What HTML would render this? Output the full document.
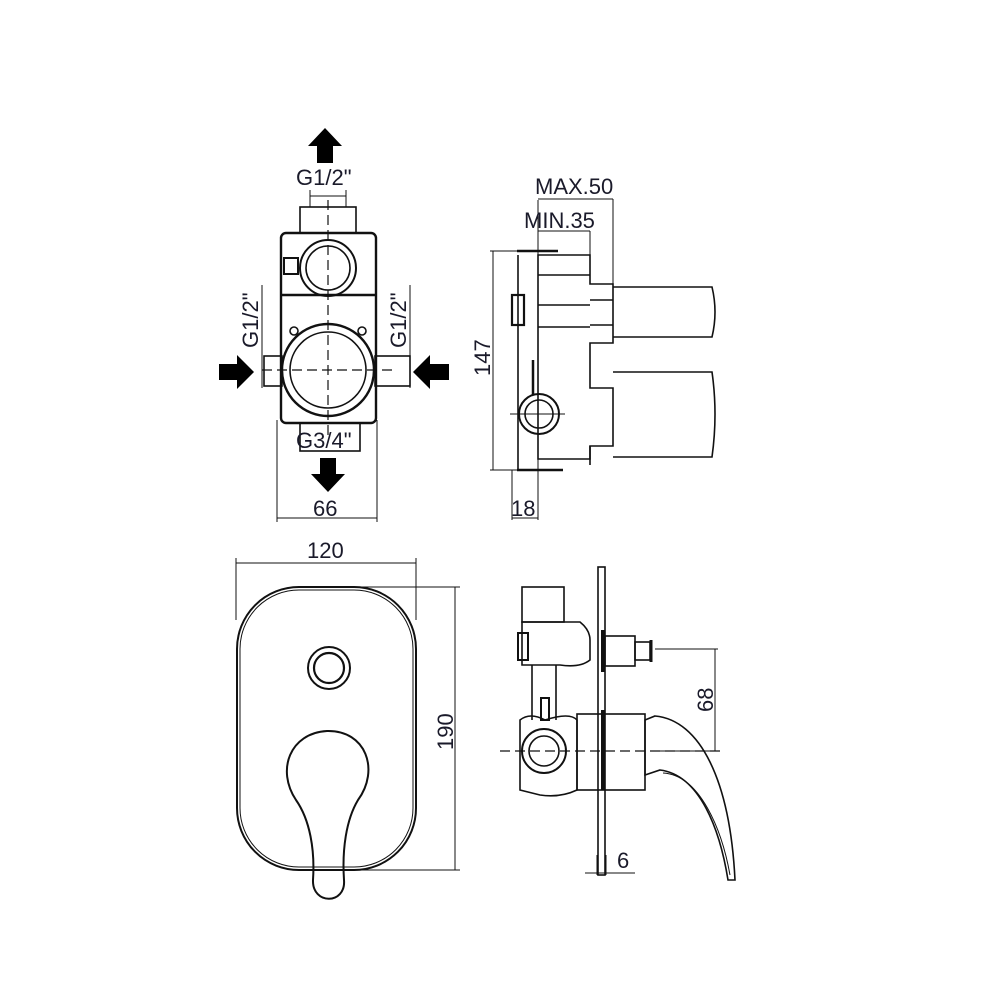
<!DOCTYPE html>
<html><head><style>
html,body{margin:0;padding:0;background:#fff;width:1000px;height:1000px;overflow:hidden}
svg{display:block}
text{font-family:"Liberation Sans",sans-serif;fill:#1a1a2a;font-size:22px}
</style></head><body>
<svg width="1000" height="1000" viewBox="0 0 1000 1000" xmlns="http://www.w3.org/2000/svg">
<g fill="none" stroke="#111" stroke-width="1.6">
<!-- TOP LEFT VIEW -->
<rect x="300" y="207" width="56" height="26"/>
<line x1="310" y1="190" x2="310" y2="207" stroke-width="1"/>
<line x1="346" y1="190" x2="346" y2="207" stroke-width="1"/>
<line x1="310" y1="196" x2="346" y2="196" stroke-width="1"/>
<rect x="281" y="233" width="95" height="190" rx="5" stroke-width="2.4"/>
<line x1="281" y1="295" x2="376" y2="295" stroke-width="2.4"/>
<circle cx="328" cy="268" r="28" stroke-width="2"/>
<circle cx="328" cy="268" r="22"/>
<circle cx="328" cy="370" r="46" stroke-width="2.4"/>
<circle cx="328" cy="370" r="38"/>
<circle cx="294" cy="331" r="4"/><circle cx="362" cy="331" r="4"/>
<rect x="284" y="258" width="14" height="16" stroke-width="2"/>
<rect x="264" y="356" width="18" height="30"/>
<rect x="375" y="356" width="35" height="30"/>
<rect x="300" y="423" width="60" height="28"/>
<line x1="262" y1="285" x2="262" y2="388" stroke-width="1"/>
<line x1="410" y1="285" x2="410" y2="388" stroke-width="1"/>
<line x1="277" y1="420" x2="277" y2="522" stroke-width="1"/>
<line x1="377" y1="420" x2="377" y2="522" stroke-width="1"/>
<line x1="277" y1="518" x2="377" y2="518" stroke-width="1"/>
<line x1="328" y1="200" x2="328" y2="440" stroke-dasharray="10,5" stroke-width="1.2"/>
<line x1="262" y1="370" x2="395" y2="370" stroke-dasharray="10,5" stroke-width="1.2"/>
<!-- TOP RIGHT VIEW -->
<line x1="490" y1="251" x2="518" y2="251" stroke-width="1"/>
<line x1="490" y1="470" x2="518" y2="470" stroke-width="1"/>
<line x1="493" y1="251" x2="493" y2="470" stroke-width="1"/>
<line x1="538" y1="200" x2="538" y2="520" stroke-width="1"/>
<line x1="512" y1="470" x2="512" y2="520" stroke-width="1"/>
<line x1="512" y1="518" x2="538" y2="518" stroke-width="1"/>
<line x1="538" y1="199" x2="613" y2="199" stroke-width="1"/>
<line x1="613" y1="199" x2="613" y2="290" stroke-width="1"/>
<line x1="538" y1="231" x2="590" y2="231" stroke-width="1"/>
<line x1="590" y1="231" x2="590" y2="255" stroke-width="1"/>
<line x1="517" y1="251" x2="558" y2="251" stroke-width="2.5"/>
<line x1="517" y1="470" x2="563" y2="470" stroke-width="2.5"/>
<path d="M538 255 H590 V284 H613 V343 H590 V388 H613 V446 H590 V459 H538 Z"/>
<line x1="538" y1="275" x2="590" y2="275"/>
<line x1="538" y1="305" x2="590" y2="305"/>
<line x1="538" y1="327" x2="590" y2="327"/>
<line x1="590" y1="300" x2="613" y2="300"/>
<line x1="590" y1="325" x2="613" y2="325"/>
<line x1="590" y1="446" x2="590" y2="465"/>
<path d="M613 287 H712 Q718 312 712 337 H613"/>
<path d="M613 372 H712 Q718 414 712 457 H613"/>
<line x1="518" y1="255" x2="518" y2="470"/>
<rect x="512" y="295" width="12" height="30" stroke-width="2.2"/>
<circle cx="539" cy="414" r="20" stroke-width="2"/>
<circle cx="539" cy="414" r="14"/>
<line x1="533" y1="360" x2="533" y2="395" stroke-width="2.5"/>
<line x1="510" y1="414" x2="565" y2="414" stroke-width="1"/>
<!-- BOTTOM LEFT -->
<rect x="237" y="587" width="179" height="283" rx="62" stroke-width="2"/>
<rect x="240" y="590" width="173" height="277" rx="59" stroke-width="1"/>
<line x1="236" y1="563" x2="416" y2="563" stroke-width="1"/>
<line x1="236" y1="558" x2="236" y2="620" stroke-width="1"/>
<line x1="416" y1="558" x2="416" y2="620" stroke-width="1"/>
<line x1="330" y1="587" x2="460" y2="587" stroke-width="1"/>
<line x1="330" y1="870" x2="460" y2="870" stroke-width="1"/>
<line x1="455" y1="587" x2="455" y2="870" stroke-width="1"/>
<circle cx="329" cy="668" r="21" stroke-width="2"/>
<circle cx="329" cy="668" r="15" stroke-width="2.2"/>
<path d="M296 800 C276 770 290 733 327 731 C366 730 380 770 358 800 C346 820 342 850 344 880 C346 905 312 905 313 880 C315 850 310 820 296 800 Z" stroke-width="2"/>
<!-- BOTTOM RIGHT -->
<rect x="598" y="567" width="7" height="308"/>
<rect x="522" y="587" width="42" height="35"/>
<path d="M522 622 H580 Q590 630 590 640 V660 Q580 668 560 665 H522 Z"/>
<rect x="518" y="633" width="10" height="27" stroke-width="2"/>
<line x1="532" y1="665" x2="532" y2="720"/>
<line x1="556" y1="665" x2="556" y2="720"/>
<rect x="605" y="636" width="30" height="30"/>
<rect x="635" y="642" width="15" height="18"/>
<line x1="651" y1="640" x2="651" y2="662" stroke-width="3"/>
<line x1="603" y1="630" x2="603" y2="672" stroke-width="4"/>
<line x1="603" y1="710" x2="603" y2="790" stroke-width="4"/>
<rect x="577" y="714" width="68" height="76"/>
<path d="M520 790 V720 Q530 712 545 720 Q570 712 577 720 V790 Q560 798 540 795 Z"/>
<circle cx="544" cy="751" r="22" stroke-width="2"/>
<circle cx="544" cy="751" r="15"/>
<rect x="541" y="698" width="8" height="22" stroke-width="2"/>
<path d="M645 720 L655 716 C700 720 730 780 735 880 L728 880 C720 830 700 775 660 770 L645 775 Z" stroke-width="1.6"/>
<path d="M663 773 C700 775 722 830 730 875" stroke-width="1"/>
<line x1="500" y1="751" x2="720" y2="751" stroke-dasharray="10,5" stroke-width="1.2"/>
<line x1="655" y1="649" x2="718" y2="649" stroke-width="1"/>
<line x1="660" y1="751" x2="718" y2="751" stroke-width="1"/>
<line x1="715" y1="649" x2="715" y2="751" stroke-width="1"/>
<line x1="597" y1="855" x2="597" y2="875" stroke-width="1"/>
<line x1="606" y1="855" x2="606" y2="875" stroke-width="1"/>
<line x1="585" y1="873" x2="635" y2="873" stroke-width="1"/>
</g>
<!-- arrows -->
<g fill="#000">
<path d="M325 128 L342 146 L333 146 L333 163 L317 163 L317 146 L308 146 Z"/>
<path d="M328 492 L311 474 L320 474 L320 458 L336 458 L336 474 L345 474 Z"/>
<path d="M254 372 L237 355 L237 364 L219 364 L219 380 L237 380 L237 389 Z"/>
<path d="M413 372 L430 355 L430 364 L449 364 L449 380 L430 380 L430 389 Z"/>
</g>
<text x="296" y="185">G1/2"</text>
<text x="296" y="448">G3/4"</text>
<text x="313" y="516">66</text>
<text transform="translate(258,348) rotate(-90)">G1/2"</text>
<text transform="translate(406,348) rotate(-90)">G1/2"</text>
<text x="535" y="194">MAX.50</text>
<text x="524" y="228">MIN.35</text>
<text transform="translate(490,376) rotate(-90)">147</text>
<text x="511" y="516">18</text>
<text x="307" y="558">120</text>
<text transform="translate(453,750) rotate(-90)">190</text>
<text transform="translate(713,712) rotate(-90)">68</text>
<text x="617" y="868">6</text>
</svg>
</body></html>
